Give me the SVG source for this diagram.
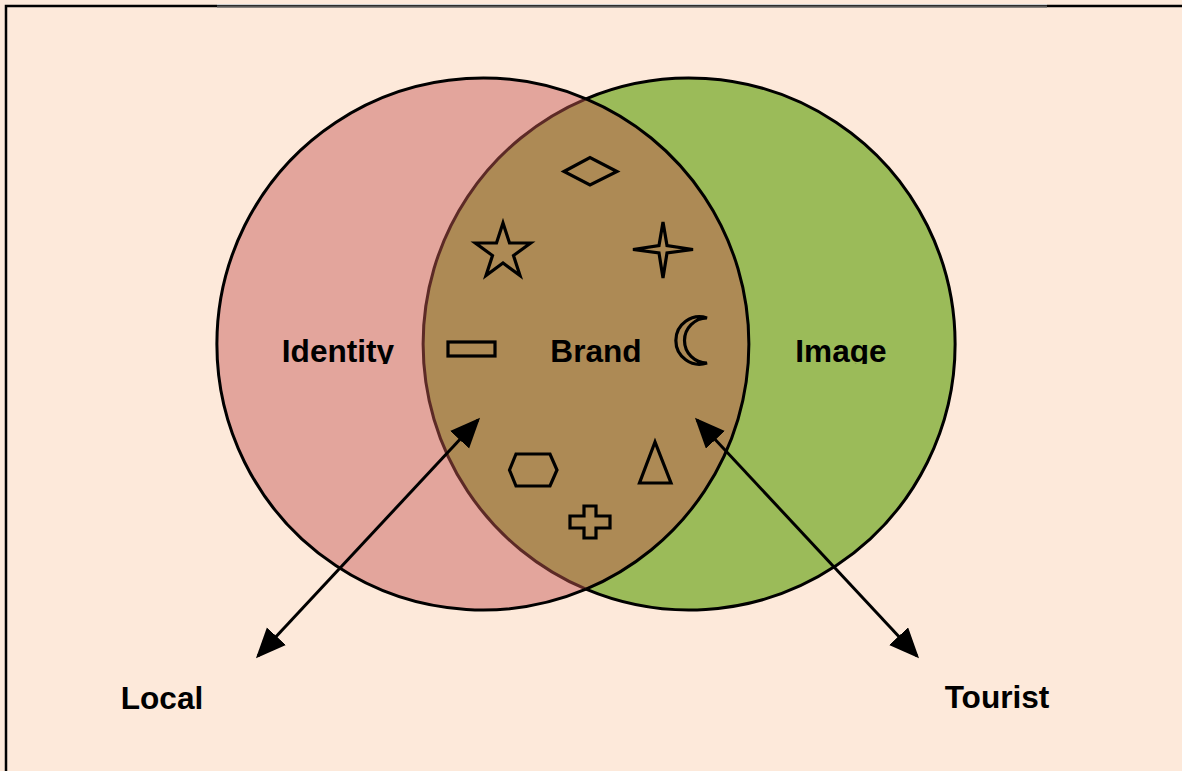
<svg xmlns="http://www.w3.org/2000/svg" width="1182" height="771" viewBox="0 0 1182 771">
<style>
.lbl{font-family:"Liberation Sans",Arial,sans-serif;font-weight:bold;font-size:31.6px;fill:#000;text-anchor:middle}
.sym{fill:none;stroke:#000;stroke-width:3.2;stroke-linejoin:miter}
.conn{stroke:#000;stroke-width:3;fill:none}
.ring{fill:none;stroke:#000;stroke-width:3}
</style>
<defs>
<marker id="ah" markerUnits="userSpaceOnUse" markerWidth="32" markerHeight="28" refX="27" refY="13" orient="auto-start-reverse" viewBox="0 0 32 28">
<path d="M0,0 L30,13 L0,26 Z" fill="#000"/>
</marker>
<clipPath id="cut"><rect x="0" y="0" width="1182" height="364"/></clipPath>
</defs>
<rect x="0" y="0" width="1182" height="771" fill="#fde9da"/>
<rect x="6" y="6" width="1200" height="800" fill="#fde9da" stroke="#000" stroke-width="2.5"/>
<line x1="217" y1="4.5" x2="1047" y2="4.5" stroke="#cfcfcf" stroke-width="1"/>
<line x1="217" y1="6.5" x2="1047" y2="6.5" stroke="#5a5a5a" stroke-width="2"/>
<g id="identity">
<circle cx="483" cy="344" r="266" fill="#e3a59c"/>
</g>
<g id="image">
<circle cx="689" cy="344" r="266" fill="#9bbb59"/>
</g>
<g id="brand">
<path d="M586,98.8 A266,266 0 0 1 586,589.2 A266,266 0 0 1 586,98.8 Z" fill="#ad8a55"/>
</g>
<path d="M586,98.8 A266,266 0 0 0 586,589.2" fill="none" stroke="#5c2a26" stroke-width="3"/>
<path class="ring" d="M586,98.8 A266,266 0 1 0 586,589.2"/>
<path class="ring" d="M586,98.8 A266,266 0 1 1 586,589.2"/>
<path class="ring" d="M586,98.8 A266,266 0 0 1 586,589.2"/>
<g id="symbols">
<polygon class="sym" points="564,171.5 590,157.5 617,171.5 590,185"/>
<polygon class="sym" points="503,223 509.5,243 530.6,243 513.5,255.5 520,275.5 503,263 486,275.5 492.5,255.5 475.4,243 496.5,243"/>
<polygon class="sym" points="663,222 667,245.5 693,249.5 667,253 663,278 659,253 633,249.5 659,245.5"/>
<rect class="sym" x="448" y="342" width="47" height="14"/>
<path class="sym" d="M707,318 A23.7,23.7 0 1 0 707,363 A22.5,22.5 0 0 1 707,318 Z"/>
<polygon class="sym" points="509.5,470 516,454 550,454 557,470 550,486 516,486"/>
<polygon class="sym" points="655,442 639.5,483 671,483"/>
<polygon class="sym" points="584,506 596,506 596,516 610,516 610,528 596,528 596,538 584,538 584,528 570,528 570,516 584,516"/>
</g>
<g id="texts">
<text class="lbl" x="338" y="362" clip-path="url(#cut)">Identity</text>
<text class="lbl" x="596" y="362">Brand</text>
<text class="lbl" x="841" y="362" clip-path="url(#cut)">Image</text>
</g>
<g id="local"><text class="lbl" x="162" y="709">Local</text></g>
<g id="tourist"><text class="lbl" x="997" y="708">Tourist</text></g>
<g id="connectors">
<line class="conn" x1="478" y1="420" x2="258" y2="656" marker-start="url(#ah)" marker-end="url(#ah)"/>
<line class="conn" x1="697" y1="420" x2="917" y2="656" marker-start="url(#ah)" marker-end="url(#ah)"/>
</g>
</svg>
